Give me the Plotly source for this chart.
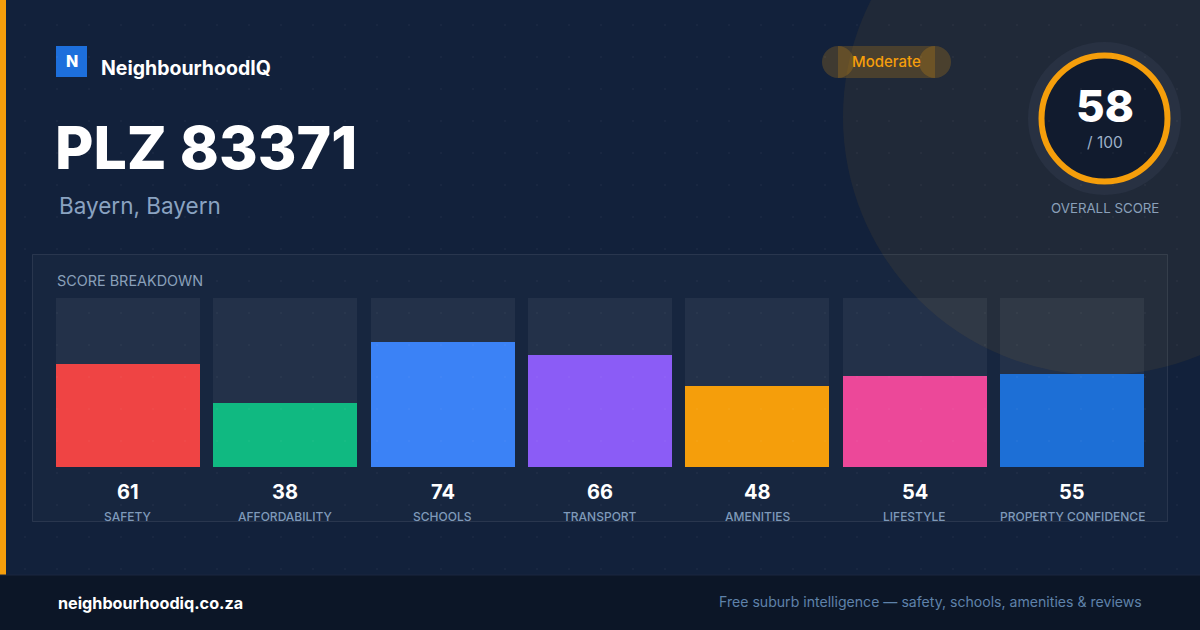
import plotly.graph_objects as go

# ---- data ----
categories = ["SAFETY", "AFFORDABILITY", "SCHOOLS", "TRANSPORT", "AMENITIES", "LIFESTYLE", "PROPERTY CONFIDENCE"]
scores = [61, 38, 74, 66, 48, 54, 55]
bar_colors = ["#ef4444", "#10b981", "#3b82f6", "#8b5cf6", "#f59e0b", "#ec4899", "#1d6fd6"]
track_max = [100] * len(categories)
overall_score = 58
overall_max = 100
title_text = "PLZ 83371"
subtitle_text = "Bayern, Bayern"
brand = "NeighbourhoodIQ"
rating_label = "Moderate"
footer_left = "neighbourhoodiq.co.za"
footer_right = "Free suburb intelligence \u2014 safety, schools, amenities & reviews"

W, H = 1200, 630
FONT = "Inter, Roboto, sans-serif"


def px(x):
    return x / W


def py(y):
    return 1 - y / H


xs = list(range(len(categories)))
pitch = (1144 - 56 - 144) / 6.0
bw = 144 / pitch
half = bw / 2

fig = go.Figure()
# faint decorative dot grid (background texture) on a full-page overlay axis
dot_x, dot_y = [], []
for gy in range(25, 575, 32):
    for gx in range(25, 1200, 32):
        dot_x.append(gx)
        dot_y.append(gy)
fig.add_trace(go.Scatter(x=dot_x, y=dot_y, mode="markers", xaxis="x2", yaxis="y2",
                         marker=dict(size=2.5, color="rgba(255,255,255,0.035)", line=dict(width=0)),
                         hoverinfo="skip", showlegend=False))
fig.add_trace(go.Bar(x=xs, y=track_max, width=bw, marker=dict(color="rgba(255,255,255,0.055)", line=dict(width=0)),
                     hoverinfo="skip", showlegend=False))
fig.add_trace(go.Bar(x=xs, y=scores, width=bw, marker=dict(color=bar_colors, line=dict(width=0)),
                     showlegend=False))

shapes = []
# big faint circle
shapes.append(dict(type="circle", xref="paper", yref="paper", x0=px(1101 - 258), x1=px(1101 + 258),
                   y0=py(117 + 258), y1=py(117 - 258), fillcolor="rgba(245,158,11,0.065)", line=dict(width=0),
                   layer="below"))
# left orange bar
shapes.append(dict(type="rect", xref="paper", yref="paper", x0=0, x1=px(6), y0=py(575), y1=1,
                   fillcolor="#f59e0b", line=dict(width=0), layer="below"))
# footer
shapes.append(dict(type="rect", xref="paper", yref="paper", x0=0, x1=1, y0=0, y1=py(575),
                   fillcolor="#0c1627", line=dict(width=0), layer="below"))
shapes.append(dict(type="line", xref="paper", yref="paper", x0=0, x1=1, y0=py(575), y1=py(575),
                   line=dict(color="#1a2740", width=1), layer="below"))
# panel
shapes.append(dict(type="rect", xref="paper", yref="paper", x0=px(32.5), x1=px(1167.5), y0=py(521.5), y1=py(254.5),
                   fillcolor="rgba(255,255,255,0.025)", line=dict(color="rgba(255,255,255,0.09)", width=1),
                   layer="below"))
# logo square
shapes.append(dict(type="rect", xref="paper", yref="paper", x0=px(56), x1=px(87), y0=py(77), y1=py(46),
                   fillcolor="#1d6fdc", line=dict(width=0), layer="below"))
# Moderate pill
pill_fill = "rgba(245,158,11,0.2)"
shapes.append(dict(type="rect", xref="paper", yref="paper", x0=px(838), x1=px(935), y0=py(78), y1=py(46),
                   fillcolor=pill_fill, line=dict(width=0), layer="below"))
for pcx in (838, 935):
    shapes.append(dict(type="circle", xref="paper", yref="paper", x0=px(pcx - 16), x1=px(pcx + 16),
                       y0=py(78), y1=py(46), fillcolor=pill_fill, line=dict(width=0), layer="below"))
# score ring
cx, cy = 1104.5, 118.5
shapes.append(dict(type="circle", xref="paper", yref="paper", x0=px(cx - 76.5), x1=px(cx + 76.5),
                   y0=py(cy + 76.5), y1=py(cy - 76.5), fillcolor="#283142", line=dict(width=0), layer="below"))
shapes.append(dict(type="circle", xref="paper", yref="paper", x0=px(cx - 63), x1=px(cx + 63),
                   y0=py(cy + 63), y1=py(cy - 63), fillcolor="#111b2e", line=dict(color="#f59e0b", width=6),
                   layer="below"))

ann = []


def text(x, y, t, size, color, weight=400, anchor="left"):
    ann.append(dict(x=px(x), y=py(y), xref="paper", yref="paper", text=t, showarrow=False,
                    xanchor=anchor, yanchor="middle",
                    font=dict(family=FONT, size=size, color=color, weight=weight)))


text(71.5, 61.5, "N", 16, "#ffffff", 800, "center")
text(99, 68, brand, 19.5, "#ffffff", 700)
text(53, 147, title_text, 59, "#ffffff", 800)
text(57, 206, subtitle_text, 22.5, "#8aa3c1", 400)
text(886.5, 62, rating_label, 15, "#f59e0b", 500, "center")
text(cx, 106, str(overall_score), 44, "#ffffff", 800, "center")
text(cx, 143, "/ " + str(overall_max), 15.5, "#9db1c9", 400, "center")
text(cx, 208, "OVERALL SCORE", 13.3, "#8aa0ba", 400, "center")
text(55, 280, "SCORE BREAKDOWN", 14.4, "#8aa0ba", 400)
for i, (c, s) in enumerate(zip(categories, scores)):
    ann.append(dict(x=i, y=py(492), xref="x", yref="paper", text=str(s), showarrow=False, xanchor="center",
                    yanchor="middle", font=dict(family=FONT, size=20, color="#ffffff", weight=700)))
    ann.append(dict(x=i, y=py(516), xref="x", yref="paper", text=c, showarrow=False, xanchor="center",
                    yanchor="middle", font=dict(family=FONT, size=12, color="#7f9aba", weight=500)))
text(56, 603, footer_left, 16.2, "#ffffff", 700)
text(1144, 602, footer_right, 14.1, "#5f82aa", 400, "right")

fig.update_layout(
    width=W, height=H, margin=dict(l=0, r=0, t=0, b=0),
    paper_bgcolor="#12213b", plot_bgcolor="rgba(0,0,0,0)",
    barmode="overlay", bargap=0,
    shapes=shapes, annotations=ann,
    xaxis=dict(domain=[px(56), px(1144)], range=[-half, 6 + half], visible=False, fixedrange=True),
    yaxis=dict(domain=[py(467), py(298)], range=[0, 100], visible=False, fixedrange=True),
    xaxis2=dict(domain=[0, 1], range=[0, W], visible=False, fixedrange=True, anchor="y2"),
    yaxis2=dict(domain=[0, 1], range=[H, 0], visible=False, fixedrange=True, anchor="x2"),
    showlegend=False,
)
fig.write_html("out.html", config={"displayModeBar": False},
               post_script="document.body.style.margin='0';document.body.style.background='#12213b';")
